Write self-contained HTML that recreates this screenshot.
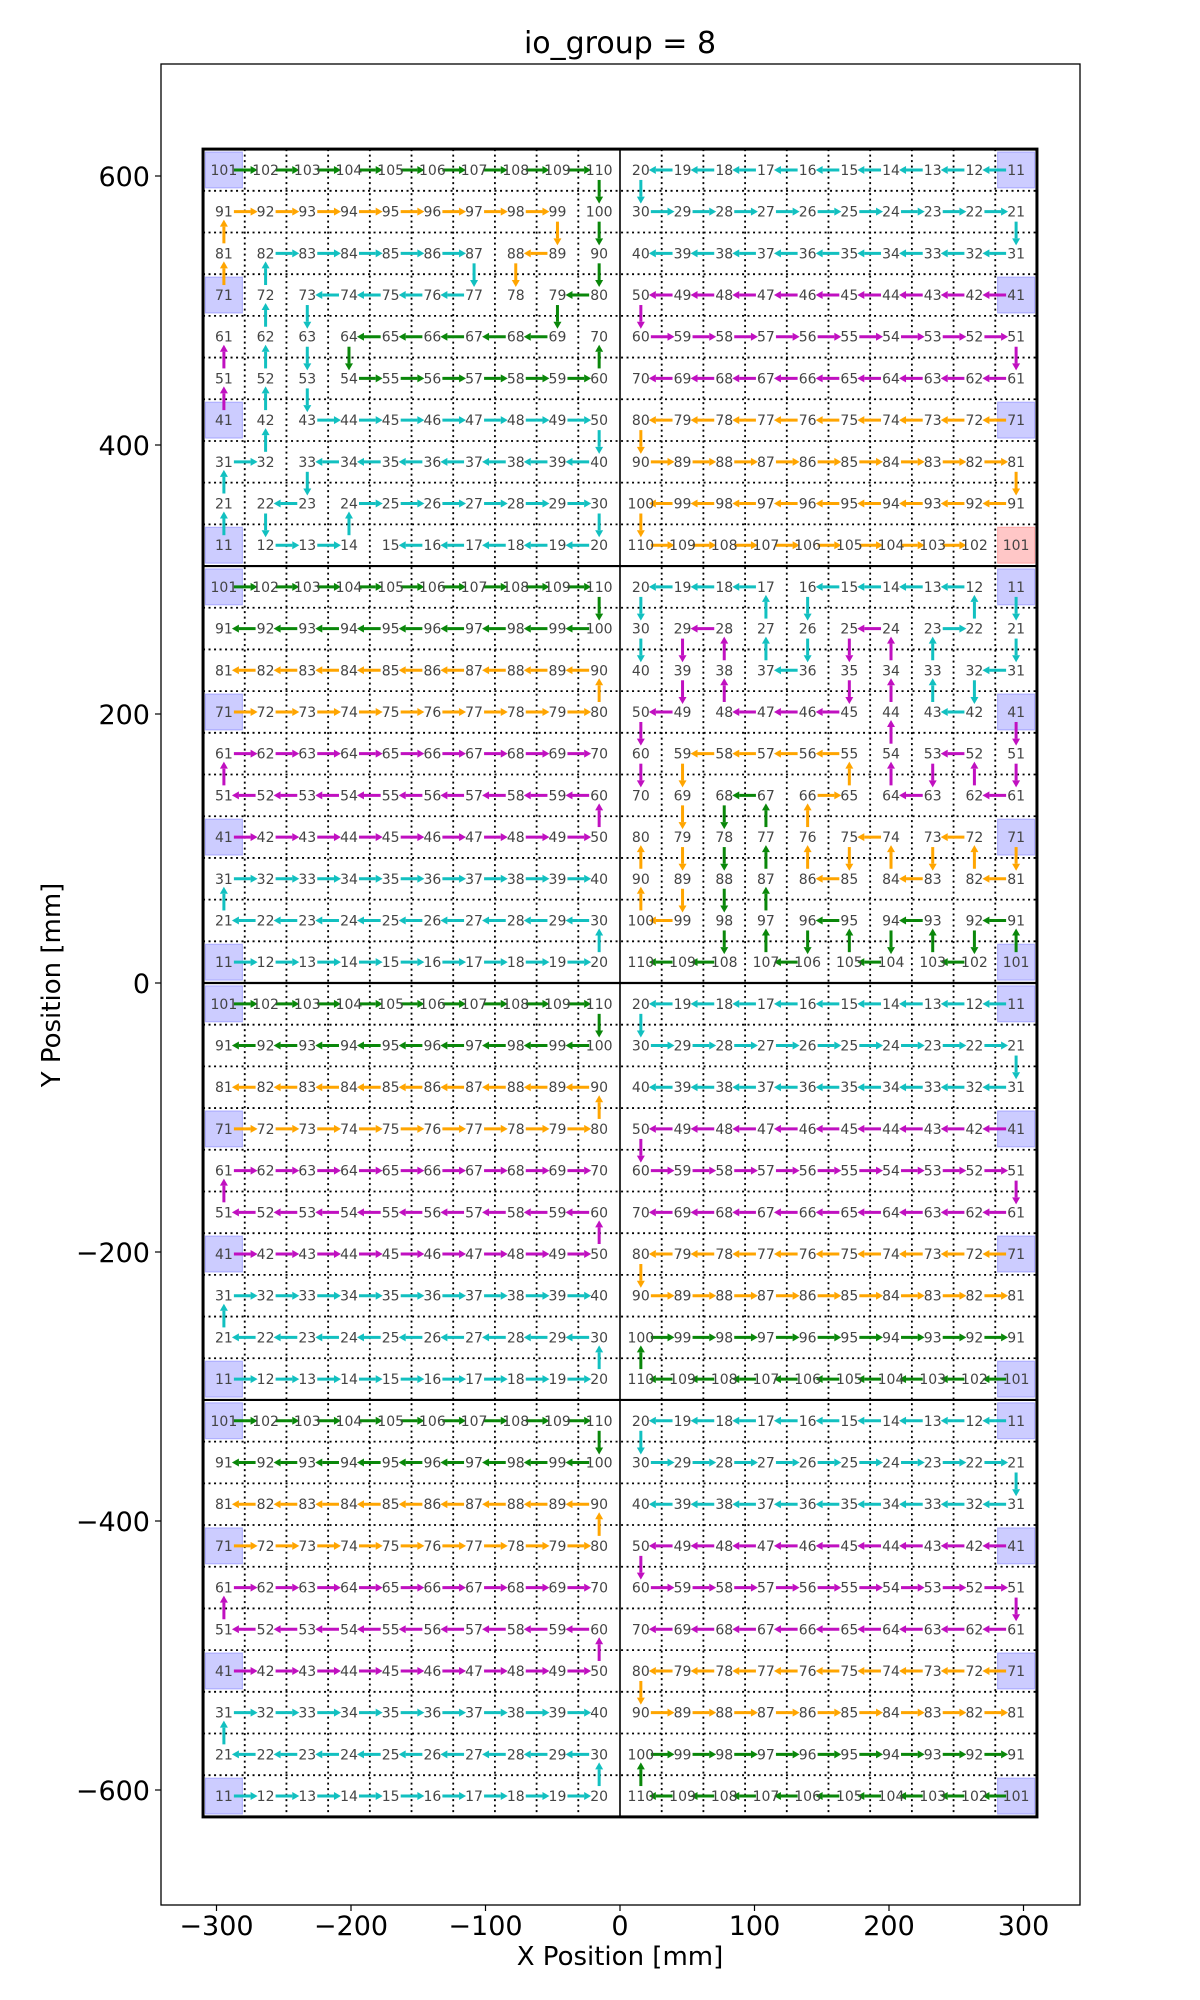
<!DOCTYPE html>
<html><head><meta charset="utf-8"><style>
html,body{margin:0;padding:0;background:#fff;}
svg{display:block;font-family:"DejaVu Sans","Liberation Sans",sans-serif;}
</style></head><body>
<svg id="chart" width="1200" height="2000" viewBox="0 0 1200 2000" xmlns="http://www.w3.org/2000/svg">
<rect x="0" y="0" width="1200" height="2000" fill="#fff"/>
<text x="620" y="53" font-size="30" text-anchor="middle" fill="#000">io_group = 8</text>
<g id="grid"></g>
<g id="boxes"></g>
<g id="arrows"></g>
<g id="labels"></g>
<g id="axes"></g>
<text x="620" y="1965" font-size="26" text-anchor="middle" fill="#000">X Position [mm]</text>
<text x="0" y="0" font-size="26" text-anchor="middle" fill="#000" transform="translate(60,985) rotate(-90)">Y Position [mm]</text>
</svg>
<script>
// ---- data ----
const xTicks = [-300, -200, -100, 0, 100, 200, 300];
const yTicks = [-600, -400, -200, 0, 200, 400, 600];
const tileBottoms = [310, 0, -310, -620];
const highlightChips = [11, 41, 71, 101];
const redChip = {tile: 0, side: 'R', chip: 101};
const stdCyan = "11 12 13 14 15 16 17 18 19 20 30 29 28 27 26 25 24 23 22 21 31 32 33 34 35 36 37 38 39 40";
const stdMagenta = "41 42 43 44 45 46 47 48 49 50 60 59 58 57 56 55 54 53 52 51 61 62 63 64 65 66 67 68 69 70";
const stdOrange = "71 72 73 74 75 76 77 78 79 80 90 89 88 87 86 85 84 83 82 81";
const stdGreen = "101 102 103 104 105 106 107 108 109 110 100 99 98 97 96 95 94 93 92 91";
const t1LeftChains = [
  ["g", "101 102 103 104 105 106 107 108 109 110 100 90 80 79 69 68 67 66 65 64 54 55 56 57 58 59 60 70"],
  ["o", "71 81 91 92 93 94 95 96 97 98 99 89 88 78"],
  ["m", "41 51 61"],
  ["c", "11 21 31 32 42 52 62 72 82 83 84 85 86 87 77 76 75 74 73 63 53 43 44 45 46 47 48 49 50 40 39 38 37 36 35 34 33 23 22 12 13 14 24 25 26 27 28 29 30 20 19 18 17 16 15"]
];
const t1RightChains = [
  ["c", stdCyan], ["m", stdMagenta],
  ["o", "71 72 73 74 75 76 77 78 79 80 90 89 88 87 86 85 84 83 82 81 91 92 93 94 95 96 97 98 99 100 110 109 108 107 106 105 104 103 102"]
];
const t2RightChains = [
  ["c", "11 21 31 32 42 43 33 23 22 12 13 14 15 16 26 36 37 27 17 18 19 20 30 40"],
  ["m", "41 51 61 62 52 53 63 64 54 44 34 24 25 35 45 46 47 48 38 28 29 39 49 50 60 70"],
  ["o", "71 81 82 72 73 83 84 74 75 85 86 76 66 65 55 56 57 58 59 69 79 89 99 100 90 80"],
  ["g", "101 91 92 102 103 93 94 104 105 95 96 106 107 97 87 77 67 68 78 88 98 108 109 110"]
];
const stdChains = [["c", stdCyan], ["m", stdMagenta], ["o", stdOrange], ["g", stdGreen]];
const colorMap = {c: "#12c0c0", m: "#c010c0", o: "#ffa500", g: "#0a870a"};

// ---- scales ----
const X0 = 620, Y0 = 983, K = 1.345;
const sx = v => X0 + v * K;
const sy = v => Y0 - v * K;
const NS = "http://www.w3.org/2000/svg";
function mk(tag, attrs, parent) {
  const e = document.createElementNS(NS, tag);
  for (const k in attrs) e.setAttribute(k, attrs[k]);
  parent.appendChild(e);
  return e;
}
function chipPos(n, side, yb) {
  const ri = Math.floor((n - 11) / 10), col = (n - 11) % 10;
  if (side === 'L') return [sx(-310 + 15.5 + 31 * col), sy(yb + 15.5 + 31 * ri)];
  return [sx(310 - 15.5 - 31 * col), sy(yb + 310 - 15.5 - 31 * ri)];
}

const grid = document.getElementById('grid');
const boxes = document.getElementById('boxes');
const arrows = document.getElementById('arrows');
const labels = document.getElementById('labels');
const axes = document.getElementById('axes');

// frame
const fr = mk('rect', {x: 161, y: 64, width: 919, height: 1841, fill: 'none', stroke: '#000', 'stroke-width': 1.3}, axes);



// dotted grid
for (let k = 1; k < 20; k++) {
  if (k === 10) continue;
  const x = sx(-310 + 31 * k);
  const l = mk('line', {x1: x, x2: x, y1: sy(620), y2: sy(-620), stroke: '#000', 'stroke-width': 1.8, 'stroke-dasharray': '2,3.5'}, grid);
  
  
}
tileBottoms.forEach(yb => {
  for (let k = 1; k < 10; k++) {
    const y = sy(yb + 31 * k);
    const l = mk('line', {x1: sx(-310), x2: sx(310), y1: y, y2: y, stroke: '#000', 'stroke-width': 1.8, 'stroke-dasharray': '2,3.5'}, grid);
    
    
  }
});
// tile borders
[310, 0, -310].forEach(v => {
  const l = mk('line', {x1: sx(-310), x2: sx(310), y1: sy(v), y2: sy(v), stroke: '#000', 'stroke-width': 2.2}, grid);
  
  
});
const cl = mk('line', {x1: sx(0), x2: sx(0), y1: sy(620), y2: sy(-620), stroke: '#000', 'stroke-width': 1.6}, grid);


const ob = mk('rect', {x: sx(-310), y: sy(620), width: 620 * K, height: 1240 * K, fill: 'none', stroke: '#000', 'stroke-width': 3}, grid);



// tiles
tileBottoms.forEach((yb, ti) => {
  ['L', 'R'].forEach(side => {
    highlightChips.forEach(n => {
      const p = chipPos(n, side, yb);
      const red = (ti === redChip.tile && side === redChip.side && n === redChip.chip);
      const b = mk('rect', {x: p[0] - 18.5, y: p[1] - 18, width: 37, height: 36,
        fill: red ? 'rgba(255,0,0,0.22)' : 'rgba(0,0,255,0.2)', stroke: red ? 'rgba(255,0,0,0.25)' : 'rgba(0,0,255,0.25)', 'stroke-width': 1}, boxes);
      
      
    });
    for (let n = 11; n <= 110; n++) {
      const p = chipPos(n, side, yb);
      const t = mk('text', {x: p[0], y: p[1] + 5, 'font-size': 14, 'text-anchor': 'middle', fill: '#444'}, labels);
      t.textContent = n;
      
      
    }
    let chains = stdChains;
    if (ti === 0 && side === 'L') chains = t1LeftChains;
    if (ti === 0 && side === 'R') chains = t1RightChains;
    if (ti === 1 && side === 'R') chains = t2RightChains;
    chains.forEach(([c, s]) => {
      const ids = s.split(' ').map(Number);
      for (let i = 0; i + 1 < ids.length; i++) {
        const a = chipPos(ids[i], side, yb), b = chipPos(ids[i + 1], side, yb);
        const dx = b[0] - a[0], dy = b[1] - a[1], d = Math.hypot(dx, dy);
        const ux = dx / d, uy = dy / d;
        const s0 = [a[0] + ux * 10, a[1] + uy * 10];
        const tip = [b[0] - ux * 8, b[1] - uy * 8];
        const base = [tip[0] - ux * 7, tip[1] - uy * 7];
        const g = mk('g', {}, arrows);
        
        
        mk('line', {x1: s0[0], y1: s0[1], x2: base[0], y2: base[1], stroke: colorMap[c], 'stroke-width': 3}, g);
        const px = -uy * 4, py = ux * 4;
        mk('polygon', {points: `${tip[0]},${tip[1]} ${base[0] + px},${base[1] + py} ${base[0] - px},${base[1] - py}`, fill: colorMap[c]}, g);
      }
    });
  });
});

// axes ticks
xTicks.forEach(v => {
  const x = sx(v);
  const tk = mk('line', {x1: x, x2: x, y1: 1905, y2: 1911, stroke: '#000', 'stroke-width': 1.2}, axes);
  
  
  const t = mk('text', {x: x, y: 1935, 'font-size': 27, 'text-anchor': 'middle', fill: '#000'}, axes);
  t.textContent = v < 0 ? '\u2212' + Math.abs(v) : String(v);
  
  
});
yTicks.forEach(v => {
  const y = sy(v);
  const tk = mk('line', {x1: 155, x2: 161, y1: y, y2: y, stroke: '#000', 'stroke-width': 1.2}, axes);
  
  
  const t = mk('text', {x: 150, y: y + 10, 'font-size': 27, 'text-anchor': 'end', fill: '#000'}, axes);
  t.textContent = v < 0 ? '\u2212' + Math.abs(v) : String(v);
  
  
});
</script>
</body></html>
